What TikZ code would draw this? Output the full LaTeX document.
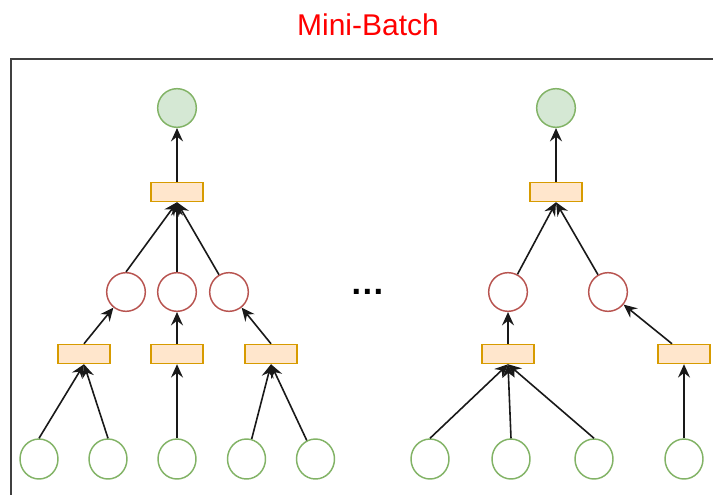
\documentclass[tikz,border=0pt]{standalone}
\usepackage{fontspec}
\setmainfont{Liberation Sans}
\usepackage{tikz}
\usetikzlibrary{positioning, arrows.meta, shapes.geometric}
\definecolor{leaf_green}{HTML}{82B366}
\definecolor{root_fill}{HTML}{D5E8D4}
\definecolor{hid_red}{HTML}{B85450}
\definecolor{agg_line}{HTML}{D79B00}
\definecolor{agg_fill}{HTML}{FFE6CC}

\begin{document}
\begin{tikzpicture}[x=0.75pt, y=-0.75pt, >={Stealth[length=10pt, width=9pt, inset=3.5pt]},
      root/.style={circle, draw=leaf_green, fill=root_fill, line width=1.1pt, minimum size=29pt, inner sep=0pt},
      leaf/.style={ellipse, draw=leaf_green, fill=white, line width=1.1pt, minimum width=28.5pt,
        minimum height=30pt, inner sep=0pt},
      hidden/.style={circle, draw=hid_red, fill=white, line width=1.1pt, minimum size=29pt, inner sep=0pt},
      agg/.style={rectangle, draw=agg_line, fill=agg_fill, line width=1.1pt, minimum width=39pt,
        minimum height=14.25pt, inner sep=0pt},
      edge/.style={->, line width=1.2pt, black!90}]
    \useasboundingbox (0,0) rectangle (713,495);
    \node[text=red, font=\fontsize{22.5}{27}\selectfont] (title) at (368,25) {Mini-Batch};
    \draw[line width=1.2pt, black!75] (713,59) -| (11,495);

    % first tree
    \node[root]   (rootA) at (177,108) {};
    \node[agg]    (aggA)  at (177,192) {};
    \node[hidden] (hA1)   at (126,292) {};
    \node[hidden] (hA2)   at (177,292) {};
    \node[hidden] (hA3)   at (229,292) {};
    \node[agg]    (aggA1) at (84,354) {};
    \node[agg]    (aggA2) at (177,354) {};
    \node[agg]    (aggA3) at (271,354) {};
    \node[leaf]   (lA1)   at (39,459) {};
    \node[leaf]   (lA2)   at (108,459) {};
    \node[leaf]   (lA3)   at (177,459) {};
    \node[leaf]   (lA4)   at (246.5,459) {};
    \node[leaf]   (lA5)   at (315.5,459) {};
    \draw[edge] (aggA) -- (rootA);
    \draw[edge] (hA1.north) -- (aggA.south);
    \draw[edge] (hA2) -- (aggA.south);
    \draw[edge] (hA3) -- (aggA.south);
    \draw[edge] (aggA1.north) -- (hA1);
    \draw[edge] (aggA2) -- (hA2);
    \draw[edge] (aggA3.north) -- (hA3);
    \draw[edge] (lA1.north) -- (aggA1.south);
    \draw[edge] (lA2.north) -- (aggA1.south);
    \draw[edge] (lA3) -- (aggA2);
    \draw[edge] (lA4) -- (aggA3.south);
    \draw[edge] (lA5) -- (aggA3.south);

    \node[font=\bfseries\fontsize{26}{30}\selectfont] (dots) at (368,292) {…};

    % last tree
    \node[root]   (rootB) at (556,108) {};
    \node[agg]    (aggB)  at (556,192) {};
    \node[hidden] (hB1)   at (508,292) {};
    \node[hidden] (hB2)   at (608,292) {};
    \node[agg]    (aggB1) at (508,354) {};
    \node[agg]    (aggB2) at (684,354) {};
    \node[leaf]   (lB1)   at (430,459) {};
    \node[leaf]   (lB2)   at (511,459) {};
    \node[leaf]   (lB3)   at (594,459) {};
    \node[leaf]   (lB4)   at (684,459) {};
    \draw[edge] (aggB) -- (rootB);
    \draw[edge] (hB1) -- (aggB.south);
    \draw[edge] (hB2) -- (aggB.south);
    \draw[edge] (aggB1) -- (hB1);
    \draw[edge] ([xshift=-9pt]aggB2.north) -- (hB2);
    \draw[edge] (lB1.north) -- (aggB1.south);
    \draw[edge] (lB2.north) -- (aggB1.south);
    \draw[edge] (lB3.north) -- (aggB1.south);
    \draw[edge] (lB4) -- (aggB2);
  \end{tikzpicture}
\end{document}
